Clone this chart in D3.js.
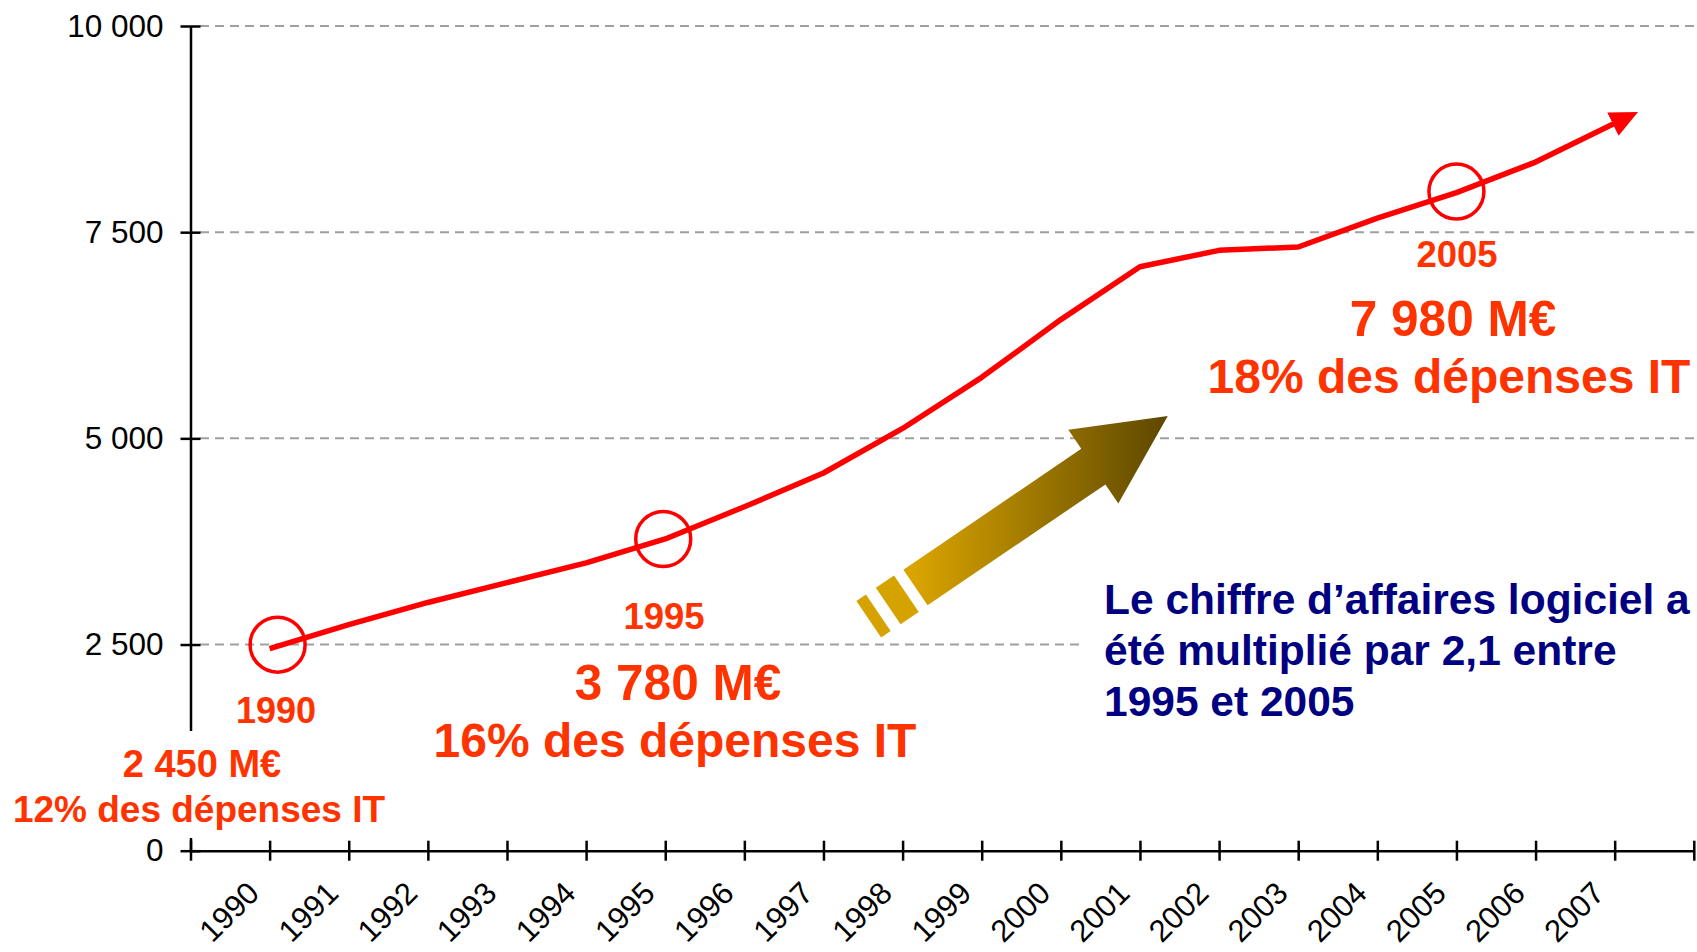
<!DOCTYPE html>
<html>
<head>
<meta charset="utf-8">
<script src="https://cdn.jsdelivr.net/npm/d3@7"></script>
<style>
  html, body { margin: 0; padding: 0; background: #ffffff; }
  svg { display: block; }
  text { font-family: "Liberation Sans", Arial, Helvetica, sans-serif; }
</style>
</head>
<body>
<svg id="chart" width="1697" height="952"></svg>
<script>
// ---------------- Data ----------------
const years = ['1990','1991','1992','1993','1994','1995','1996','1997','1998','1999',
               '2000','2001','2002','2003','2004','2005','2006','2007'];
const values = [2450, 2740, 3010, 3250, 3490, 3780, 4170, 4580, 5120, 5740,
                6440, 7080, 7280, 7320, 7670, 7980, 8350, 8820];
const yTicks = [0, 2500, 5000, 7500, 10000];
const gridValues = [2500, 5000, 7500, 10000];
const calloutYears = ['1990', '1995', '2005'];
const calloutAmounts = ['2 450 M€', '3 780 M€', '7 980 M€'];
const calloutShares = ['12% des dépenses IT', '16% des dépenses IT', '18% des dépenses IT'];
const noteLines = ['Le chiffre d’affaires logiciel a', 'été multiplié par 2,1 entre', '1995 et 2005'];

// ---------------- Setup ----------------
const svg = d3.select('#chart');
const nSlots = years.length + 1;           // category axis has one extra empty slot
const x = d3.scaleLinear().domain([0, nSlots]).range([190.5, 1693.8]);
const y = d3.scaleLinear().domain([0, 10000]).range([850.7, 26]);
const fmt = d3.formatLocale({decimal: ',', thousands: ' ', grouping: [3], currency: ['', '€']}).format(',');

const RED = '#FF0000';
const ORANGE = '#FF3300';
const NAVY = '#000080';

// defs
const defs = svg.append('defs');
defs.append('marker')
  .attr('id', 'arrowRed')
  .attr('markerUnits', 'userSpaceOnUse')
  .attr('viewBox', '-2 -15 32 30')
  .attr('markerWidth', 32).attr('markerHeight', 30)
  .attr('refX', 0).attr('refY', 0)
  .attr('orient', 'auto')
  .append('path')
  .attr('d', 'M-2,-13 L26,0 L-2,13 Z')
  .attr('fill', RED);

const grad = defs.append('linearGradient')
  .attr('id', 'goldGrad')
  .attr('gradientUnits', 'userSpaceOnUse')
  .attr('x1', 0).attr('y1', 0).attr('x2', 250).attr('y2', 0)
  .attr('gradientTransform', 'rotate(34.2)');
grad.append('stop').attr('offset', '0%').attr('stop-color', '#D9A300');
grad.append('stop').attr('offset', '100%').attr('stop-color', '#5E4800');

// ---------------- Gridlines ----------------
svg.append('g').selectAll('line').data(gridValues).join('line')
  .attr('x1', 200).attr('x2', 1697)
  .attr('y1', d => y(d)).attr('y2', d => y(d))
  .attr('stroke', '#A0A0A0').attr('stroke-width', 2)
  .attr('stroke-dasharray', '9,6');

// ---------------- Axes ----------------
const yAxis = svg.append('g')
  .attr('transform', `translate(${x(0)},0)`)
  .call(d3.axisLeft(y).tickValues(yTicks).tickFormat(fmt).tickSize(10).tickPadding(17).tickSizeOuter(0));
yAxis.selectAll('.tick line').attr('x1', 10);
yAxis.selectAll('path, line').attr('stroke', '#000').attr('stroke-width', 2.5);
yAxis.selectAll('text').attr('font-size', 31.5).attr('fill', '#000')
  .style('font-family', '"Liberation Sans", Arial, sans-serif');

const xAxis = svg.append('g')
  .attr('transform', `translate(0,${y(0)})`)
  .call(d3.axisBottom(x).tickValues(d3.range(0, nSlots + 1)).tickFormat('').tickSize(10).tickSizeOuter(0));
xAxis.selectAll('.tick line').attr('y1', -10);
xAxis.selectAll('path, line').attr('stroke', '#000').attr('stroke-width', 2.5);
xAxis.selectAll('.tick text').remove();

svg.append('g').selectAll('text').data(years).join('text')
  .attr('transform', (d, i) => `translate(${x(i + 0.5) + 31},895) rotate(-45)`)
  .attr('text-anchor', 'end')
  .attr('font-size', 31)
  .attr('fill', '#000')
  .text(d => d);

// ---------------- Line ----------------
const pts = years.map((yr, i) => ({yr, v: values[i], px: x(i + 1), py: y(values[i])}));
svg.append('path')
  .datum(pts)
  .attr('d', d3.line().x(d => d.px).y(d => d.py))
  .attr('fill', 'none')
  .attr('stroke', RED)
  .attr('stroke-width', 5.5)
  .attr('stroke-linejoin', 'round')
  .attr('marker-end', 'url(#arrowRed)');

// highlight rings (the first ring is drawn slightly to the right of its point, as in the original)
const ringNudge = [[8, -4], [-2, 0], [0, -1]];
svg.append('g').selectAll('circle').data(pts.filter(p => calloutYears.includes(p.yr))).join('circle')
  .attr('cx', (d, i) => d.px + ringNudge[i][0]).attr('cy', (d, i) => d.py + ringNudge[i][1]).attr('r', 27.5)
  .attr('fill', 'none').attr('stroke', RED).attr('stroke-width', 3.5);

// ---------------- Gold arrow (decoration) ----------------
const shaftLen = 215, headLen = 90, shaftHalf = 21.5, headHalf = 44.5;
const goldArrow = svg.append('g').attr('transform', 'translate(915.5,587.5) rotate(-34.2)');
goldArrow.append('path')
  .attr('d', `M0,${-shaftHalf} L${shaftLen},${-shaftHalf} L${shaftLen},${-headHalf} L${shaftLen + headLen},0 L${shaftLen},${headHalf} L${shaftLen},${shaftHalf} L0,${shaftHalf} Z`)
  .attr('fill', 'url(#goldGrad)');
[[-33, -11], [-56.5, -45]].forEach(([a, b]) => {
  goldArrow.append('rect')
    .attr('x', a).attr('y', -22).attr('width', b - a).attr('height', 44)
    .attr('fill', '#D6A200');
});

// ---------------- Text boxes ----------------
svg.append('rect').attr('x', 0).attr('y', 731).attr('width', 400).attr('height', 107).attr('fill', '#fff');
svg.append('rect').attr('x', 1082).attr('y', 580).attr('width', 615).attr('height', 150).attr('fill', '#fff');

const callPos = [
  {yr: [276, 723, 36], amt: [202, 777, 38], share: [199, 822, 37]},
  {yr: [664, 629, 36.5], amt: [678, 700, 49.5], share: [675, 757, 48]},
  {yr: [1457, 267, 36.5], amt: [1453, 336, 49.5], share: [1449, 393, 48]}
];
const tg = svg.append('g').attr('fill', ORANGE).attr('font-weight', 'bold').attr('text-anchor', 'middle');
calloutYears.forEach((yr, i) => {
  const p = callPos[i];
  tg.append('text').attr('x', p.yr[0]).attr('y', p.yr[1]).attr('font-size', p.yr[2]).text(yr);
  tg.append('text').attr('x', p.amt[0]).attr('y', p.amt[1]).attr('font-size', p.amt[2]).text(calloutAmounts[i]);
  tg.append('text').attr('x', p.share[0]).attr('y', p.share[1]).attr('font-size', p.share[2]).text(calloutShares[i]);
});

svg.append('g').selectAll('text').data(noteLines).join('text')
  .attr('x', 1104).attr('y', (d, i) => 614 + i * 50.8)
  .attr('font-size', 42.5).attr('font-weight', 'bold').attr('fill', NAVY)
  .text(d => d);
</script>
</body>
</html>
